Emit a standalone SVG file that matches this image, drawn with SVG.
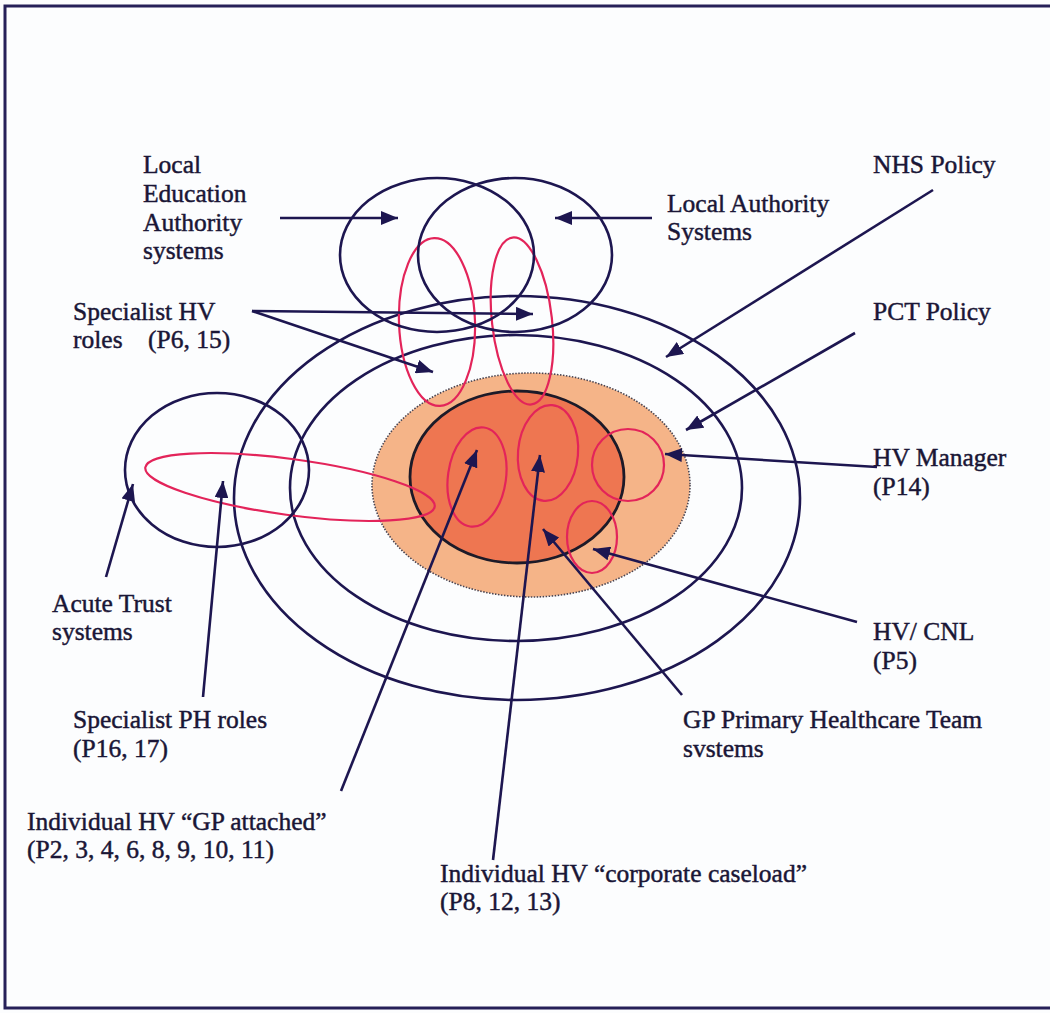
<svg xmlns="http://www.w3.org/2000/svg" width="1050" height="1013" viewBox="0 0 1050 1013">
  <style>
    .lbl { font-family: "Liberation Serif", "Times New Roman", serif; font-size: 25.5px; fill: #1a1636; stroke: #1a1636; stroke-width: 0.45; }
    .ring { fill: none; stroke: #1d1650; stroke-width: 2.6; }
    .role { fill: none; stroke: #e3245a; stroke-width: 2.2; }
    .conn { fill: none; stroke: #1d1650; stroke-width: 2.6; marker-end: url(#head); }
  </style>
  <defs>
    <marker id="head" markerUnits="userSpaceOnUse" markerWidth="17" markerHeight="14" refX="17" refY="7" orient="auto">
      <path d="M0,0 L17,7 L0,14 z" fill="#1d1650"/>
    </marker>
  </defs>

  <!-- page and frame -->
  <rect x="0" y="0" width="1050" height="1013" fill="#fcfdfe"/>
  <rect x="5" y="6" width="1060" height="1002" fill="none" stroke="#262058" stroke-width="3"/>

  <!-- policy layers -->
  <g id="nhs-policy">
    <ellipse class="ring" cx="517" cy="498" rx="283" ry="202"/>
    <text class="lbl" x="873" y="173">NHS Policy</text>
  </g>
  <g id="pct-policy">
    <ellipse class="ring" cx="516" cy="488" rx="226" ry="153"/>
    <text class="lbl" x="873" y="320">PCT Policy</text>
  </g>

  <!-- GP primary healthcare team area -->
  <g id="gp-phct">
    <ellipse cx="531" cy="485" rx="159" ry="112" fill="#f5b488" stroke="#4a4450" stroke-width="1.6" stroke-dasharray="1.5 1.5"/>
    <text class="lbl" x="683" y="728">GP Primary Healthcare Team</text>
    <text class="lbl" x="683" y="757">svstems</text>
  </g>
  <g id="gp-core">
    <ellipse cx="517" cy="477" rx="107" ry="86" fill="#ee7651" stroke="#1c1a28" stroke-width="2.8"/>
  </g>

  <!-- HV roles -->
  <g id="specialist-hv">
    <ellipse class="role" cx="437" cy="322" rx="38" ry="84" transform="rotate(-2 437 322)"/>
    <ellipse class="role" cx="522" cy="321" rx="30" ry="84" transform="rotate(-6.5 522 321)"/>
    <text class="lbl" x="73" y="320">Specialist HV</text>
    <text class="lbl" x="73" y="348">roles <tspan x="148">(P6, 15)</tspan></text>
  </g>
  <g id="specialist-ph">
    <ellipse class="role" cx="290" cy="487" rx="146" ry="28" transform="rotate(7.7 290 487)"/>
    <text class="lbl" x="73" y="728">Specialist PH roles</text>
    <text class="lbl" x="73" y="757">(P16, 17)</text>
  </g>
  <g id="hv-gp-attached">
    <ellipse class="role" cx="477" cy="477" rx="29" ry="50" transform="rotate(8 477 477)"/>
    <text class="lbl" x="27" y="830">Individual HV “GP attached”</text>
    <text class="lbl" x="27" y="858">(P2, 3, 4, 6, 8, 9, 10, 11)</text>
  </g>
  <g id="hv-corporate">
    <ellipse class="role" cx="548" cy="453" rx="30" ry="48" transform="rotate(5 548 453)"/>
    <text class="lbl" x="440" y="882">Individual HV “corporate caseload”</text>
    <text class="lbl" x="440" y="910">(P8, 12, 13)</text>
  </g>
  <g id="hv-manager">
    <ellipse class="role" cx="628" cy="465" rx="36" ry="36"/>
    <text class="lbl" x="873" y="466">HV Manager</text>
    <text class="lbl" x="873" y="495">(P14)</text>
  </g>
  <g id="hv-cnl">
    <ellipse class="role" cx="592" cy="537" rx="25" ry="36"/>
    <text class="lbl" x="873" y="640">HV/ CNL</text>
    <text class="lbl" x="873" y="669">(P5)</text>
  </g>

  <!-- neighbouring systems -->
  <g id="lea-systems">
    <ellipse class="ring" cx="437" cy="255" rx="97" ry="77"/>
    <text class="lbl" x="143" y="173">Local</text>
    <text class="lbl" x="143" y="202">Education</text>
    <text class="lbl" x="143" y="231">Authority</text>
    <text class="lbl" x="143" y="259">systems</text>
  </g>
  <g id="la-systems">
    <ellipse class="ring" cx="515" cy="255" rx="97" ry="77"/>
    <text class="lbl" x="667" y="212">Local Authority</text>
    <text class="lbl" x="667" y="240">Systems</text>
  </g>
  <g id="acute-trust">
    <ellipse class="ring" cx="217" cy="470" rx="92" ry="77"/>
    <text class="lbl" x="52" y="612">Acute Trust</text>
    <text class="lbl" x="52" y="640">systems</text>
  </g>

  <!-- pointers from labels -->
  <g id="connectors">
    <line class="conn" x1="280" y1="218" x2="398" y2="218"/>
    <line class="conn" x1="652" y1="218" x2="555" y2="218"/>
    <line class="conn" x1="252" y1="311" x2="533" y2="314"/>
    <line class="conn" x1="252" y1="311" x2="433" y2="372"/>
    <line class="conn" x1="933" y1="190" x2="666" y2="357"/>
    <line class="conn" x1="855" y1="333" x2="686" y2="430"/>
    <line class="conn" x1="877" y1="467" x2="665" y2="454"/>
    <line class="conn" x1="857" y1="622" x2="593" y2="549"/>
    <line class="conn" x1="682" y1="695" x2="543" y2="529"/>
    <line class="conn" x1="493" y1="860" x2="540" y2="455"/>
    <line class="conn" x1="341" y1="791" x2="477" y2="450"/>
    <line class="conn" x1="203" y1="697" x2="223" y2="481"/>
    <line class="conn" x1="106" y1="577" x2="133" y2="484"/>
  </g>
</svg>
